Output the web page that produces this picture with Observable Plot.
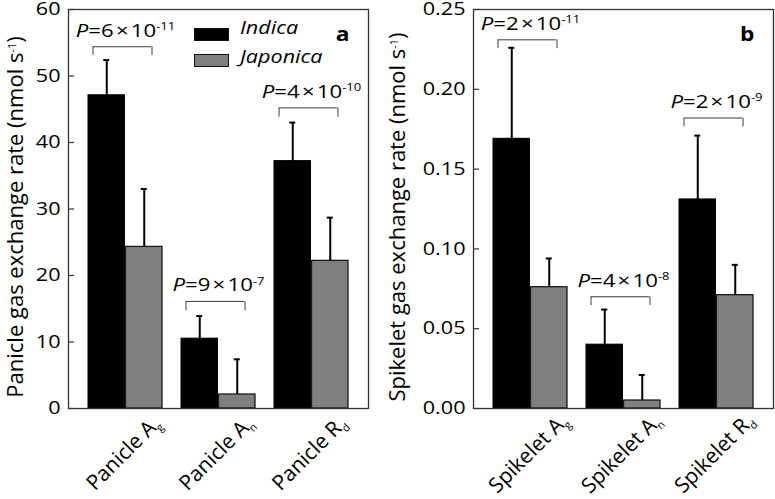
<!DOCTYPE html>
<html>
<head>
<meta charset="utf-8">
<script src="https://cdn.jsdelivr.net/npm/d3@7"></script>
<script src="https://cdn.jsdelivr.net/npm/@observablehq/plot@0.6"></script>
<style>
  html, body { margin: 0; padding: 0; background: #fff; }
  #wrap { position: relative; width: 775px; height: 499px; overflow: hidden; font-family: "Open Sans", sans-serif; }
  .panel { position: absolute; top: 0; }
  .legend { position: absolute; left: 0; top: 0; }
  .lg-sw { position: absolute; width: 35px; height: 13px; box-sizing: border-box; border: 1.2px solid #111; }
  .lg-tx { position: absolute; font-style: italic; font-size: 18px; line-height: 18px; white-space: nowrap; transform: scaleX(1.2); transform-origin: left center; color: #000; }
</style>
</head>
<body>
<div id="wrap"></div>
<script>
// ---------- data ----------
const cultivars = ["Indica", "Japonica"];
const cultivarColors = ["#000000", "#808080"];

const panicleCategories = ["Panicle A_{g}", "Panicle A_{n}", "Panicle R_{d}"];
const panicleIndica = [47.1, 10.5, 37.2];
const panicleIndicaSD = [5.3, 3.4, 5.8];
const panicleJaponica = [24.3, 2.1, 22.2];
const panicleJaponicaSD = [8.7, 5.3, 6.5];
const panicleP = ["*P*=6\u200A×\u200A10^{-11}", "*P*=9\u200A×\u200A10^{-7}", "*P*=4\u200A×\u200A10^{-10}"];
const panicleBracket = [54.4, 16.1, 45.2];
const panicleBracketLeg = [53.1, 14.7, 43.8];
const panicleTicks = [0, 10, 20, 30, 40, 50, 60];
const panicleLabel = "Panicle gas exchange rate (nmol s^{-1})";

const spikeletCategories = ["Spikelet A_{g}", "Spikelet A_{n}", "Spikelet R_{d}"];
const spikeletIndica = [0.169, 0.040, 0.131];
const spikeletIndicaSD = [0.057, 0.022, 0.040];
const spikeletJaponica = [0.076, 0.005, 0.071];
const spikeletJaponicaSD = [0.018, 0.016, 0.019];
const spikeletP = ["*P*=2\u200A×\u200A10^{-11}", "*P*=4\u200A×\u200A10^{-8}", "*P*=2\u200A×\u200A10^{-9}"];
const spikeletBracket = [0.231, 0.070, 0.182];
const spikeletBracketLeg = [0.2255, 0.0645, 0.1765];
const spikeletTicks = [0, 0.05, 0.10, 0.15, 0.20, 0.25];
const spikeletLabel = "Spikelet gas exchange rate (nmol s^{-1})";

// ---------- helpers ----------
const STRETCH = 1.2;
const SVGNS = "http://www.w3.org/2000/svg";

function richText(el) {
  const s = el.textContent;
  if (!/[\*\^_]/.test(s)) return;
  const fs = parseFloat(getComputedStyle(el).fontSize) || 16;
  const re = /\*([^*]+)\*|\^\{([^}]*)\}|_\{([^}]*)\}|([^*^_]+)/g;
  el.textContent = "";
  let shift = 0, m;
  while ((m = re.exec(s))) {
    const ts = document.createElementNS(SVGNS, "tspan");
    let target = 0;
    if (m[1] !== undefined) { ts.textContent = m[1]; ts.setAttribute("font-style", "italic"); }
    else if (m[2] !== undefined) { ts.textContent = m[2]; ts.setAttribute("font-size", (fs * 0.68) + "px"); target = -0.42 * fs; }
    else if (m[3] !== undefined) { ts.textContent = m[3]; ts.setAttribute("font-size", (fs * 0.68) + "px"); target = 0.28 * fs; }
    else { ts.textContent = m[4]; }
    if (target !== shift) { ts.setAttribute("dy", (target - shift) + "px"); shift = target; }
    el.appendChild(ts);
  }
}

// horizontal texts get a slight horizontal stretch like the reference figure
function stretchText(el) {
  const tr = el.getAttribute("transform") || "";
  if (/rotate/.test(tr)) return;
  if (/^translate\([^)]*\)/.test(tr)) {
    el.setAttribute("transform", tr.replace(/^(translate\([^)]*\))/, `$1 scale(${STRETCH},1)`));
  } else {
    const x = parseFloat(el.getAttribute("x")) || 0;
    el.setAttribute("transform", `translate(${x},0) scale(${STRETCH},1) translate(${-x},0)${tr ? " " + tr : ""}`);
  }
}

function panel(o) {
  const {cats, ind, indSD, jap, japSD, pv, br, leg, ticks, fmt, ylabel, letter, width, ml, mr, titleDx, yMax} = o;
  const rows = cats.flatMap((c, i) => [
    {cat: c, cultivar: cultivars[0], v: ind[i], sd: indSD[i]},
    {cat: c, cultivar: cultivars[1], v: jap[i], sd: japSD[i]}
  ]);
  const indRows = rows.filter(d => d.cultivar === cultivars[0]);
  const japRows = rows.filter(d => d.cultivar === cultivars[1]);
  const brRows = cats.map((c, i) => ({cat: c, p: pv[i], y: br[i], leg: leg[i]}));
  const fw = width - ml - mr;
  const pad = 0.2;
  const bw = fw / (cats.length - pad + 2 * pad) * (1 - pad);
  const half = bw / 2, q = bw / 4, cap = 3.5;
  const brL = 5, brR = 11;
  const lineCol = "#3a3a3a";

  const chart = Plot.plot({
    width, height: 499,
    marginLeft: ml, marginRight: mr, marginTop: 9, marginBottom: 91,
    style: {fontFamily: "'Open Sans', sans-serif", fontSize: "18px", color: "#000", background: "transparent", overflow: "visible"},
    x: {domain: cats, paddingInner: pad, paddingOuter: pad, axis: null},
    y: {domain: [0, yMax], axis: null},
    marks: [
      Plot.barY(indRows, {x: "cat", y: "v", fill: cultivarColors[0], stroke: "#000", strokeWidth: 1, insetRight: half}),
      Plot.barY(japRows, {x: "cat", y: "v", fill: cultivarColors[1], stroke: "#1a1a1a", strokeWidth: 1.3, insetLeft: half}),
      Plot.ruleX(indRows, {x: "cat", y1: "v", y2: d => d.v + d.sd, dx: -q, stroke: "#000", strokeWidth: 2}),
      Plot.ruleX(japRows, {x: "cat", y1: "v", y2: d => d.v + d.sd, dx: q, stroke: "#000", strokeWidth: 2}),
      Plot.tickY(indRows, {x: "cat", y: d => d.v + d.sd, insetLeft: q - cap, insetRight: bw - q - cap, stroke: "#000", strokeWidth: 2}),
      Plot.tickY(japRows, {x: "cat", y: d => d.v + d.sd, insetLeft: 3 * q - cap, insetRight: q - cap, stroke: "#000", strokeWidth: 2}),
      // significance brackets
      Plot.tickY(brRows, {x: "cat", y: "y", insetLeft: brL, insetRight: brR, stroke: lineCol, strokeWidth: 1}),
      Plot.ruleX(brRows, {x: "cat", y1: "y", y2: "leg", dx: brL - half, stroke: lineCol, strokeWidth: 1}),
      Plot.ruleX(brRows, {x: "cat", y1: "y", y2: "leg", dx: half - brR, stroke: lineCol, strokeWidth: 1}),
      Plot.text(brRows, {x: "cat", y: "y", text: "p", dy: -16, lineAnchor: "middle", fontSize: 18.5}),
      // axes
      Plot.gridY(ticks, {stroke: "#333", strokeOpacity: 1, strokeWidth: 1.2, insetRight: fw - 6}),
      Plot.axisY({ticks, tickFormat: fmt, tickSize: 0, tickPadding: 8, fontSize: 18, label: null}),
      Plot.text(cats, {x: d => d, text: d => d, frameAnchor: "bottom", dy: 45, dx: -2, rotate: -45, textAnchor: "middle", lineAnchor: "middle", fontSize: 21}),
      Plot.text([ylabel], {text: d => d, frameAnchor: "left", dx: titleDx, dy: 8, rotate: -90, textAnchor: "middle", lineAnchor: "middle", fontSize: 22}),
      Plot.text([letter], {text: d => d, frameAnchor: "top-right", dx: -19, dy: 25, textAnchor: "end", lineAnchor: "middle", fontWeight: "bold", fontSize: 19}),
      Plot.frame({stroke: "#333", strokeWidth: 1.3})
    ]
  });
  chart.querySelectorAll("text").forEach(t => { richText(t); stretchText(t); });
  return chart;
}

const wrap = document.getElementById("wrap");

const a = panel({
  cats: panicleCategories, ind: panicleIndica, indSD: panicleIndicaSD,
  jap: panicleJaponica, japSD: panicleJaponicaSD,
  pv: panicleP, br: panicleBracket, leg: panicleBracketLeg,
  ticks: panicleTicks, fmt: d3.format("d"), ylabel: panicleLabel, letter: "a",
  width: 385, ml: 68, mr: 17, titleDx: -53, yMax: 60
});
const divA = document.createElement("div");
divA.className = "panel"; divA.style.left = "0px";
divA.appendChild(a); wrap.appendChild(divA);

const b = panel({
  cats: spikeletCategories, ind: spikeletIndica, indSD: spikeletIndicaSD,
  jap: spikeletJaponica, japSD: spikeletJaponicaSD,
  pv: spikeletP, br: spikeletBracket, leg: spikeletBracketLeg,
  ticks: spikeletTicks, fmt: d3.format(".2f"), ylabel: spikeletLabel, letter: "b",
  width: 390, ml: 88, mr: 2, titleDx: -76, yMax: 0.25
});
const divB = document.createElement("div");
divB.className = "panel"; divB.style.left = "385px";
divB.appendChild(b); wrap.appendChild(divB);

// legend (panel a)
const legend = document.createElement("div");
legend.className = "legend";
const legendPos = [{sw: 28, tx: 18}, {sw: 54, tx: 47}];
cultivars.forEach((c, i) => {
  const sw = document.createElement("div");
  sw.className = "lg-sw";
  sw.style.left = "194px"; sw.style.top = legendPos[i].sw + "px";
  sw.style.background = cultivarColors[i];
  const tx = document.createElement("div");
  tx.className = "lg-tx";
  tx.style.left = "240px"; tx.style.top = legendPos[i].tx + "px";
  tx.textContent = c;
  legend.appendChild(sw); legend.appendChild(tx);
});
wrap.appendChild(legend);
</script>
</body>
</html>
